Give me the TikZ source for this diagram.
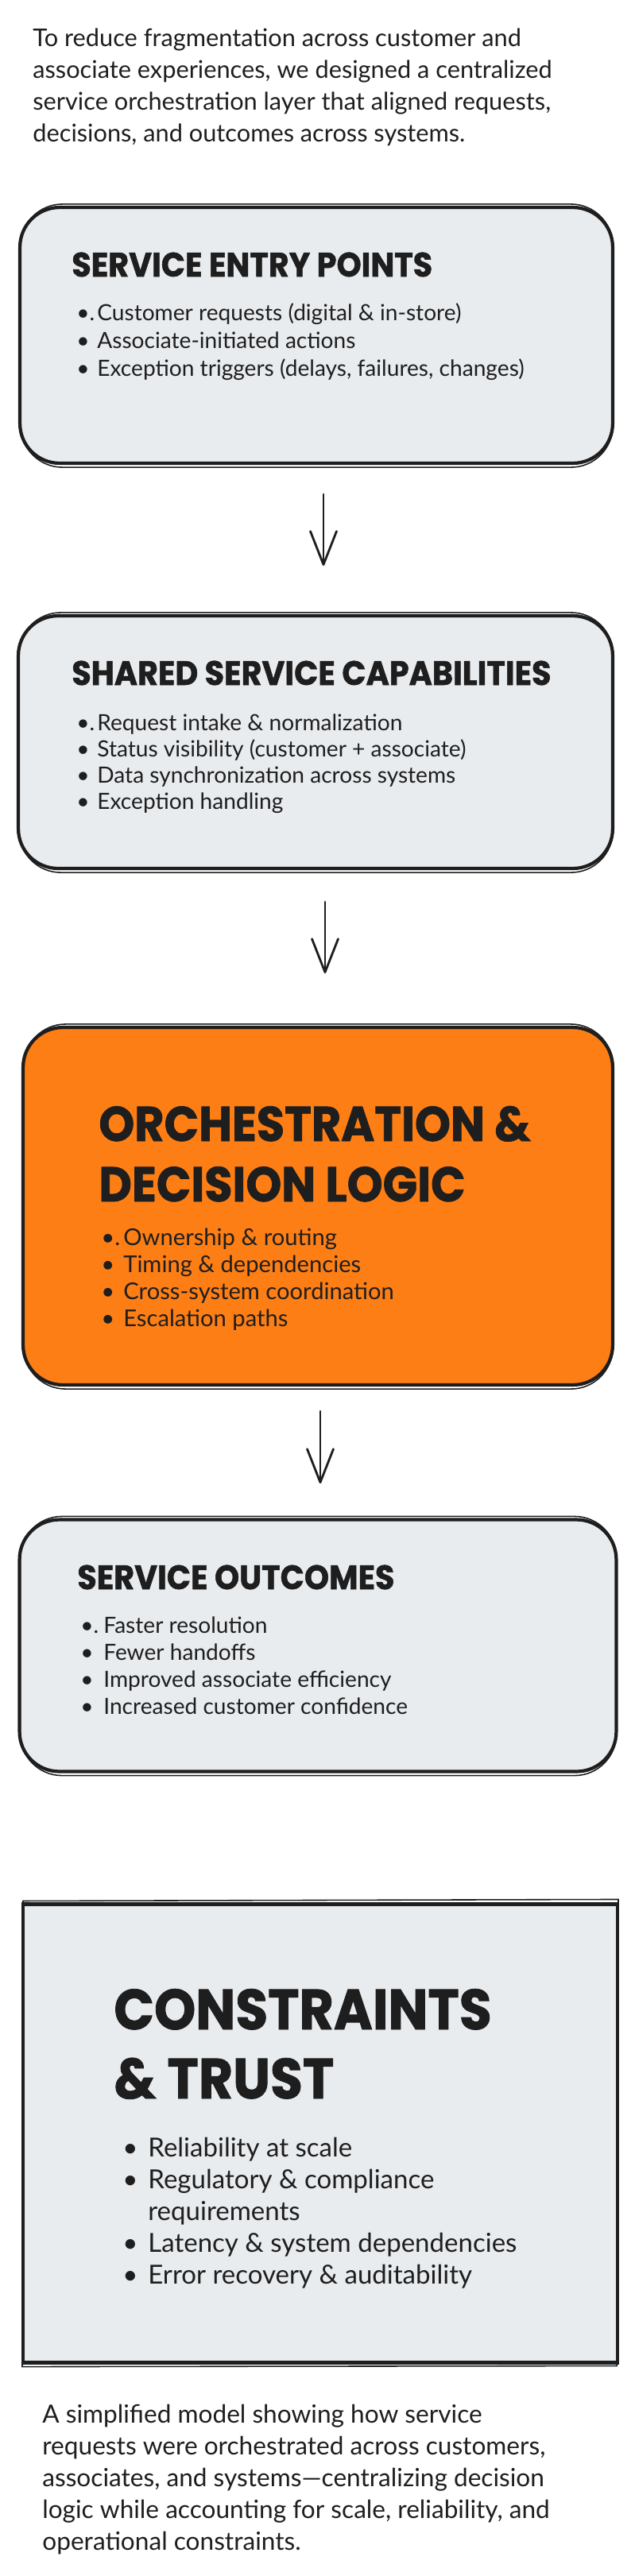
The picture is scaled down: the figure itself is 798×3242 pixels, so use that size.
\documentclass[tikz,border=0pt]{standalone}
\usepackage{fontspec}
\usepackage{tikz}
\usepackage{xcolor}
\usetikzlibrary{arrows.meta}
\setmainfont{Lato}
\newfontfamily\headfont{Poppins}[FakeStretch=0.93,BoldFeatures={FakeBold=1.2}]
\definecolor{ink}{HTML}{1E1E1E}
\definecolor{paper}{HTML}{E9ECEF}
\definecolor{flame}{HTML}{FD7E14}

\begin{document}
\begin{tikzpicture}[x=0.02cm,y=-0.02cm,
  card/.style={draw=ink,line width=2.4pt,rounded corners=1cm,fill=paper},
  heading/.style={anchor=base west,inner sep=0pt,text=ink},
  item/.style={anchor=base west,inner sep=0pt,text=ink},
  flow/.style={draw=ink,line width=1.6pt,line cap=round,-{Straight Barb[length=0.84cm,width=0.66cm,round]}}]
  \useasboundingbox (0,0) rectangle (798,3242);

  % intro
  \foreach \t [count=\i] in {To reduce fragmentation across customer and, {associate experiences, we designed a centralized}, {service orchestration layer that aligned requests,}, {decisions, and outcomes across systems.}}
    \node[item,font=\fontsize{17.5}{21}\selectfont] (intro-\i) at (41,{18+40*\i}) {\t};

  % entry points
  \node[card,minimum width=14.92cm,minimum height=6.44cm] (entry) at (398,422) {};
  \node[heading,font=\headfont\bfseries\fontsize{24.3}{28}\selectfont] (entry-t) at (90,348) {SERVICE ENTRY POINTS};
  \foreach \d/\t [count=\i] in {{\textbullet.}/{Customer requests (digital \& in-store)}, \textbullet/Associate-initiated actions, \textbullet/{Exception triggers (delays, failures, changes)}}
    \node[item,font=\fontsize{16}{19}\selectfont] (entry-\i) at (96,{368+35*\i}) {\makebox[0.52cm][l]{\d}\t};

  % shared capabilities
  \node[card,minimum width=14.96cm,minimum height=6.36cm] (shared) at (397,934) {};
  \node[heading,font=\headfont\bfseries\fontsize{24.3}{28}\selectfont] (shared-t) at (90,862) {SHARED SERVICE CAPABILITIES};
  \foreach \d/\t [count=\i] in {{\textbullet.}/{Request intake \& normalization}, \textbullet/{Status visibility (customer + associate)}, \textbullet/{Data synchronization across systems}, \textbullet/{Exception handling}}
    \node[item,font=\fontsize{16}{19}\selectfont] (shared-\i) at (96,{886+33*\i}) {\makebox[0.52cm][l]{\d}\t};

  % orchestration
  \node[card,fill=flame,minimum width=14.84cm,minimum height=9cm] (orch) at (400,1518) {};
  \node[heading,font=\headfont\bfseries\fontsize{35}{40}\selectfont] (orch-t1) at (124,1436) {ORCHESTRATION \&};
  \node[heading,font=\headfont\bfseries\fontsize{35}{40}\selectfont] (orch-t2) at (124,1512) {DECISION LOGIC};
  \foreach \d/\t [count=\i] in {{\textbullet.}/{Ownership \& routing}, \textbullet/{Timing \& dependencies}, \textbullet/{Cross-system coordination}, \textbullet/{Escalation paths}}
    \node[item,font=\fontsize{16.6}{20}\selectfont] (orch-\i) at (127,{1533+34*\i}) {\makebox[0.56cm][l]{\d}\t};

  % outcomes
  \node[card,minimum width=15.02cm,minimum height=6.34cm] (outcome) at (400,2071) {};
  \node[heading,font=\headfont\bfseries\fontsize{24.3}{28}\selectfont] (outcome-t) at (97,2000) {SERVICE OUTCOMES};
  \foreach \d/\t [count=\i] in {{\textbullet.}/{Faster resolution}, \textbullet/{Fewer handoffs}, \textbullet/{Improved associate efficiency}, \textbullet/{Increased customer confidence}}
    \node[item,font=\fontsize{16}{19}\selectfont] (outcome-\i) at (101,{2021+34*\i}) {\makebox[0.58cm][l]{\d}\t};

  % constraints
  \node[card,rounded corners=0pt,minimum width=14.96cm,minimum height=11.54cm] (trust) at (403,2685) {};
  \node[heading,font=\headfont\bfseries\fontsize{40.7}{46}\selectfont] (trust-t1) at (143,2554) {CONSTRAINTS};
  \node[heading,font=\headfont\bfseries\fontsize{40.7}{46}\selectfont] (trust-t2) at (143,2641) {\& TRUST};
  \foreach \d/\t [count=\i] in {\textbullet/{Reliability at scale}, \textbullet/{Regulatory \& compliance}, {}/{requirements}, \textbullet/{Latency \& system dependencies}, \textbullet/{Error recovery \& auditability}}
    \node[item,font=\fontsize{18.8}{23}\selectfont] (trust-\i) at (154,{2674+40*\i}) {\makebox[0.64cm][l]{\d}\t};

  % sketchy second strokes
  \foreach \b in {entry,shared,orch,outcome}
    \draw[ink,line width=0.9pt,rounded corners=1.05cm] ([shift={(3,-2)}]\b.north west) rectangle ([shift={(-2,3)}]\b.south east);
  \draw[ink,line width=0.9pt] ([shift={(2,-2)}]trust.north west) -- ([shift={(-1,-4)}]trust.north east) -- ([shift={(-3,2)}]trust.south east) -- ([shift={(1,3)}]trust.south west) -- cycle;

  % arrows
  \coordinate (a1) at (407,622);  \coordinate (b1) at (407,712);
  \coordinate (a2) at (409,1135); \coordinate (b2) at (409,1225);
  \coordinate (a3) at (403,1776); \coordinate (b3) at (403,1867);
  \draw[flow] (a1) -- (b1);
  \draw[flow] (a2) -- (b2);
  \draw[flow] (a3) -- (b3);

  % caption
  \foreach \t [count=\i] in {A simplified model showing how service, {requests were orchestrated across customers,}, {associates, and systems---centralizing decision}, {logic while accounting for scale, reliability, and}, operational constraints.}
    \node[item,font=\fontsize{18}{22}\selectfont] (note-\i) at (53,{3009+40*\i}) {\t};
\end{tikzpicture}
\end{document}
